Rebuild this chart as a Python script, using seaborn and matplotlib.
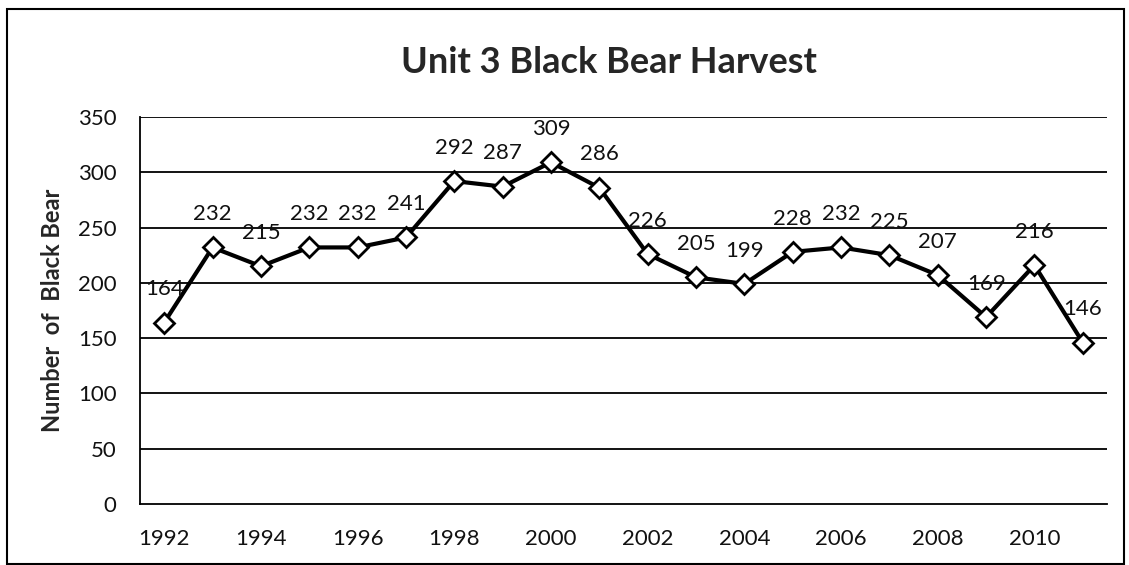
import matplotlib
matplotlib.use("Agg")
import matplotlib.pyplot as plt
import seaborn as sns
import pandas as pd

# Data
years = list(range(1992, 2012))
harvest = [164, 232, 215, 232, 232, 241, 292, 287, 309, 286,
           226, 205, 199, 228, 232, 225, 207, 169, 216, 146]
xtick_years = list(range(1992, 2011, 2))
ytick_vals = list(range(0, 351, 50))

df = pd.DataFrame({"year": years, "harvest": harvest})

sns.set_style("white")
plt.rcParams["font.family"] = ["Lato", "DejaVu Sans"]

fig = plt.figure(figsize=(11.29, 5.65), dpi=100)
ax = fig.add_axes([0.124, 0.108, 0.8565, 0.685])

ax.set_axisbelow(True)
for v in ytick_vals[1:]:
    ax.axhline(v, color="black", lw=1.3, zorder=0)

sns.lineplot(data=df, x="year", y="harvest", ax=ax, color="black", lw=3,
             marker="D", markersize=10.5, markerfacecolor="white",
             markeredgecolor="black", markeredgewidth=2, zorder=3)

for x, y in zip(years, harvest):
    ax.annotate(str(y), (x, y), xytext=(0, 24), textcoords="offset points",
                ha="center", va="center", fontsize=16, color="#111111")

ax.set_xlim(1991.5, 2011.5)
ax.set_ylim(0, 350)
ax.set_xticks(xtick_years)
ax.set_yticks(ytick_vals)
ax.tick_params(axis="both", length=0, labelsize=16, colors="#111111")
ax.tick_params(axis="y", pad=17)
ax.tick_params(axis="x", pad=18)
ax.set_xlabel("")
ax.set_ylabel("Number  of  Black Bear", fontsize=17, fontweight="bold", labelpad=10)

for side in ["top", "right"]:
    ax.spines[side].set_visible(False)
ax.spines["left"].set_color("black")
ax.spines["left"].set_linewidth(1.3)
ax.spines["bottom"].set_color("black")
ax.spines["bottom"].set_linewidth(1.3)

fig.text(0.539, 0.871, "Unit 3 Black Bear Harvest", ha="center", va="baseline",
         fontsize=26, fontweight="bold")

# outer frame
fig.patches.append(plt.Rectangle((0.006, 0.002), 0.99, 0.982, transform=fig.transFigure,
                                 fill=False, edgecolor="black", lw=1.5))

fig.savefig("out.png", dpi=100)
